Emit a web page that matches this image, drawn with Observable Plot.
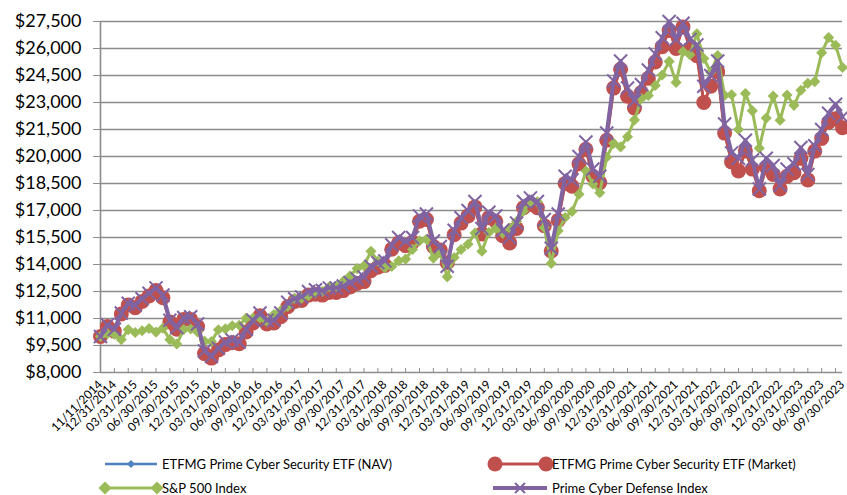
<!DOCTYPE html>
<html><head><meta charset="utf-8">
<script src="https://cdn.jsdelivr.net/npm/d3@7"></script>
<script src="https://cdn.jsdelivr.net/npm/@observablehq/plot@0.6"></script>
<style>
body{margin:0;background:#fff;font-family:Lato,sans-serif;}
#wrap{position:relative;width:847px;height:495px;overflow:hidden;background:#fff}
</style></head><body><div id="wrap"></div>
<script>
const dates = [
"11/11/2014","11/30/2014","12/31/2014",
"01/31/2015","02/28/2015","03/31/2015","04/30/2015","05/31/2015","06/30/2015","07/31/2015","08/31/2015","09/30/2015","10/31/2015","11/30/2015","12/31/2015",
"01/31/2016","02/29/2016","03/31/2016","04/30/2016","05/31/2016","06/30/2016","07/31/2016","08/31/2016","09/30/2016","10/31/2016","11/30/2016","12/31/2016",
"01/31/2017","02/28/2017","03/31/2017","04/30/2017","05/31/2017","06/30/2017","07/31/2017","08/31/2017","09/30/2017","10/31/2017","11/30/2017","12/31/2017",
"01/31/2018","02/28/2018","03/31/2018","04/30/2018","05/31/2018","06/30/2018","07/31/2018","08/31/2018","09/30/2018","10/31/2018","11/30/2018","12/31/2018",
"01/31/2019","02/28/2019","03/31/2019","04/30/2019","05/31/2019","06/30/2019","07/31/2019","08/31/2019","09/30/2019","10/31/2019","11/30/2019","12/31/2019",
"01/31/2020","02/29/2020","03/31/2020","04/30/2020","05/31/2020","06/30/2020","07/31/2020","08/31/2020","09/30/2020","10/31/2020","11/30/2020","12/31/2020",
"01/31/2021","02/28/2021","03/31/2021","04/30/2021","05/31/2021","06/30/2021","07/31/2021","08/31/2021","09/30/2021","10/31/2021","11/30/2021","12/31/2021",
"01/31/2022","02/28/2022","03/31/2022","04/30/2022","05/31/2022","06/30/2022","07/31/2022","08/31/2022","09/30/2022","10/31/2022","11/30/2022","12/31/2022",
"01/31/2023","02/28/2023","03/31/2023","04/30/2023","05/31/2023","06/30/2023","07/31/2023","08/31/2023","09/30/2023"
];
const tickLabels = [
"11/11/2014","12/31/2014",
"03/31/2015","06/30/2015","09/30/2015","12/31/2015",
"03/31/2016","06/30/2016","09/30/2016","12/31/2016",
"03/31/2017","06/30/2017","09/30/2017","12/31/2017",
"03/31/2018","06/30/2018","09/30/2018","12/31/2018",
"03/31/2019","06/30/2019","09/30/2019","12/31/2019",
"03/31/2020","06/30/2020","09/30/2020","12/31/2020",
"03/31/2021","06/30/2021","09/30/2021","12/31/2021",
"03/31/2022","06/30/2022","09/30/2022","12/31/2022",
"03/31/2023","06/30/2023","09/30/2023"
];
const yTicks = [8000,9500,11000,12500,14000,15500,17000,18500,20000,21500,23000,24500,26000,27500];

const navValues = [
10000,10550,10300,11250,11750,11600,11950,12250,12550,12150,10800,10400,10950,10950,10550,
9050,8800,9250,9550,9650,9600,10250,10750,11150,10700,10750,11100,
11650,11950,12000,12300,12350,12300,12450,12450,12550,12750,12950,13050,
13650,13850,13950,14850,15200,15050,15250,16400,16500,15000,14800,14100,
15650,16300,16700,17200,15700,16600,16400,15600,15200,16000,17150,17350,
17150,16150,14750,16450,18500,18350,19600,20400,18900,18550,20900,23800,
24850,23350,22700,23550,24350,25250,26100,27050,26000,27300,26000,25600,
23000,23900,24700,21300,19700,19200,20300,19300,18100,19400,19000,18200,
18900,19100,19900,18700,20300,21000,21900,22150,21700
];
const marketValues = [
10000,10550,10300,11250,11750,11600,11950,12250,12550,12150,10800,10400,10950,10950,10550,
9050,8800,9250,9550,9650,9600,10250,10750,11150,10700,10750,11100,
11650,11950,12000,12300,12350,12300,12450,12450,12550,12750,12950,13050,
13650,13850,13950,14850,15200,15050,15250,16400,16500,15000,14800,14100,
15650,16300,16700,17200,15700,16600,16400,15600,15200,16000,17150,17350,
17150,16150,14750,16450,18500,18350,19600,20400,18900,18550,20900,23800,
24850,23350,22700,23550,24350,25250,26100,27000,26000,27200,26000,25600,
23000,23900,24700,21300,19700,19200,20300,19300,18100,19400,19000,18200,
18900,19100,19900,18700,20300,21000,21900,22100,21600
];
const sp500Values = [
10000,10153,10126,9828,10384,10219,10323,10448,10244,10464,9825,9580,10393,10414,10247,
9743,9718,10376,10422,10598,10624,11020,11025,11028,10832,11220,11441,
11666,12119,12133,12263,12425,12505,12766,12794,13062,13375,13772,13930,
14736,14184,13825,13885,14207,14300,14838,15312,15402,14356,14636,13314,
14386,14837,15126,15747,14733,15776,16007,15744,16039,16392,16977,17492,
17492,16045,14061,15870,16615,16948,17909,19194,18471,17989,19956,20730,
20532,21101,22032,23223,23387,23945,24531,25282,24118,25826,25652,26814,
25443,24686,25609,23395,23433,21502,23498,22537,20464,22134,23363,22018,
23417,22842,23681,24064,24162,25768,26613,26184,24948
];
const indexValues = [
10000,10650,10400,11300,11850,11750,12100,12400,12700,12300,10900,10500,11050,11100,10700,
9200,8900,9350,9700,9800,9700,10400,10900,11300,10900,10900,11300,
11900,12100,12200,12500,12600,12550,12700,12700,12800,13000,13200,13300,
13900,14100,14200,15100,15500,15300,15500,16700,16800,15300,15000,13900,
15900,16600,17000,17500,16000,16900,16700,15900,15500,16300,17500,17700,
17500,16500,14900,16800,18900,18700,20000,20800,19300,18900,21300,24200,
25300,23800,23100,24000,24800,25700,26600,27500,26500,27400,26500,26200,
23900,24500,25300,21800,20200,19900,20900,19800,18200,19900,19500,18400,
19300,19600,20500,19000,20600,21500,22400,22900,22200
];

const seriesNames = ["ETFMG Prime Cyber Security ETF (NAV)","ETFMG Prime Cyber Security ETF (Market)","S&P 500 Index","Prime Cyber Defense Index"];
const seriesValues = [navValues, marketValues, sp500Values, indexValues];
const colors = ["#4f81bd","#c0504d","#9bbb59","#8064a2"];

const tables = seriesValues.map((vals, k) => vals.map((v, i) => ({date: dates[i], value: v, series: seriesNames[k]})));

const evenDates = dates.filter((d, i) => i % 2 === 0);
const fmt = d => "$" + d3.format(",")(d);

const marks = [
  Plot.ruleY(yTicks, {stroke: "#8c8c8c", strokeWidth: 1.6}),
  Plot.ruleX([dates[0]], {stroke: "#8c8c8c", strokeWidth: 1.6}),
  Plot.axisY({ticks: yTicks, tickFormat: fmt, tickSize: 7, tickPadding: 12, fontSize: 18, stroke: "#8c8c8c", fill: "#000", label: null}),
  Plot.axisX({ticks: evenDates, tickSize: -4, tickFormat: () => "", stroke: "#8c8c8c", label: null}),
  Plot.axisX({ticks: tickLabels, tickSize: 0, tickRotate: -45, tickPadding: 10, fontSize: 12, fill: "#000", label: null}),
  Plot.line(tables[0], {x: "date", y: "value", stroke: colors[0], strokeWidth: 2.5}),
  Plot.dot(tables[0], {x: "date", y: "value", symbol: "diamond2", r: 3, fill: colors[0], stroke: "none"}),
  Plot.line(tables[1], {x: "date", y: "value", stroke: colors[1], strokeWidth: 3}),
  Plot.dot(tables[1], {x: "date", y: "value", symbol: "circle", r: 7.5, fill: colors[1], stroke: "none"}),
  Plot.line(tables[2], {x: "date", y: "value", stroke: colors[2], strokeWidth: 3}),
  Plot.dot(tables[2], {x: "date", y: "value", symbol: "diamond2", r: 5, fill: colors[2], stroke: "none"}),
  Plot.line(tables[3], {x: "date", y: "value", stroke: colors[3], strokeWidth: 4}),
  Plot.dot(tables[3], {x: "date", y: "value", symbol: "times", r: 6, stroke: colors[3], strokeWidth: 2, fill: "none"})
];

const chart = Plot.plot({
  width: 847, height: 440,
  marginLeft: 100, marginRight: 5, marginTop: 21, marginBottom: 68,
  style: {fontFamily: "Lato, sans-serif", fontSize: "12px", color: "#000", background: "#fff", overflow: "visible"},
  x: {type: "point", domain: dates, padding: 0},
  y: {domain: [8000, 27500]},
  marks
});
const wrap = document.getElementById("wrap");
wrap.appendChild(chart);

const ns = "http://www.w3.org/2000/svg";
const leg = document.createElementNS(ns, "svg");
leg.setAttribute("width", 847); leg.setAttribute("height", 55);
leg.style.position = "absolute"; leg.style.left = "0px"; leg.style.top = "440px";
const items = [
  {k: 0, x1: 105, x2: 157, y: 24, tx: 162},
  {k: 1, x1: 495, x2: 546, y: 24, tx: 552},
  {k: 2, x1: 103, x2: 157, y: 48, tx: 162},
  {k: 3, x1: 493, x2: 547, y: 48, tx: 552}
];
let html = "";
for (const it of items) {
  const c = colors[it.k];
  const sw = [2.5, 3, 3, 4][it.k];
  html += `<line x1="${it.x1}" x2="${it.x2}" y1="${it.y}" y2="${it.y}" stroke="${c}" stroke-width="${sw}"/>`;
  if (it.k === 0) {
    const cx = (it.x1 + it.x2) / 2;
    html += `<path d="M${cx},${it.y-4}L${cx+4},${it.y}L${cx},${it.y+4}L${cx-4},${it.y}Z" fill="${c}"/>`;
  } else if (it.k === 1) {
    html += `<circle cx="${it.x1}" cy="${it.y}" r="7.5" fill="${c}"/><circle cx="${it.x2}" cy="${it.y}" r="7.5" fill="${c}"/>`;
  } else if (it.k === 2) {
    for (const cx of [it.x1 + 2, it.x2]) html += `<path d="M${cx},${it.y-6.5}L${cx+6.5},${it.y}L${cx},${it.y+6.5}L${cx-6.5},${it.y}Z" fill="${c}"/>`;
  } else {
    const cx = (it.x1 + it.x2) / 2;
    html += `<path d="M${cx-5},${it.y-5}L${cx+5},${it.y+5}M${cx-5},${it.y+5}L${cx+5},${it.y-5}" stroke="${c}" stroke-width="2"/>`;
  }
  html += `<text x="${it.tx}" y="${it.y}" dy="0.35em" font-family="Lato, sans-serif" font-size="13" fill="#000">${seriesNames[it.k].replace("&","&amp;")}</text>`;
}
leg.innerHTML = html;
wrap.appendChild(leg);
</script>
</body></html>
